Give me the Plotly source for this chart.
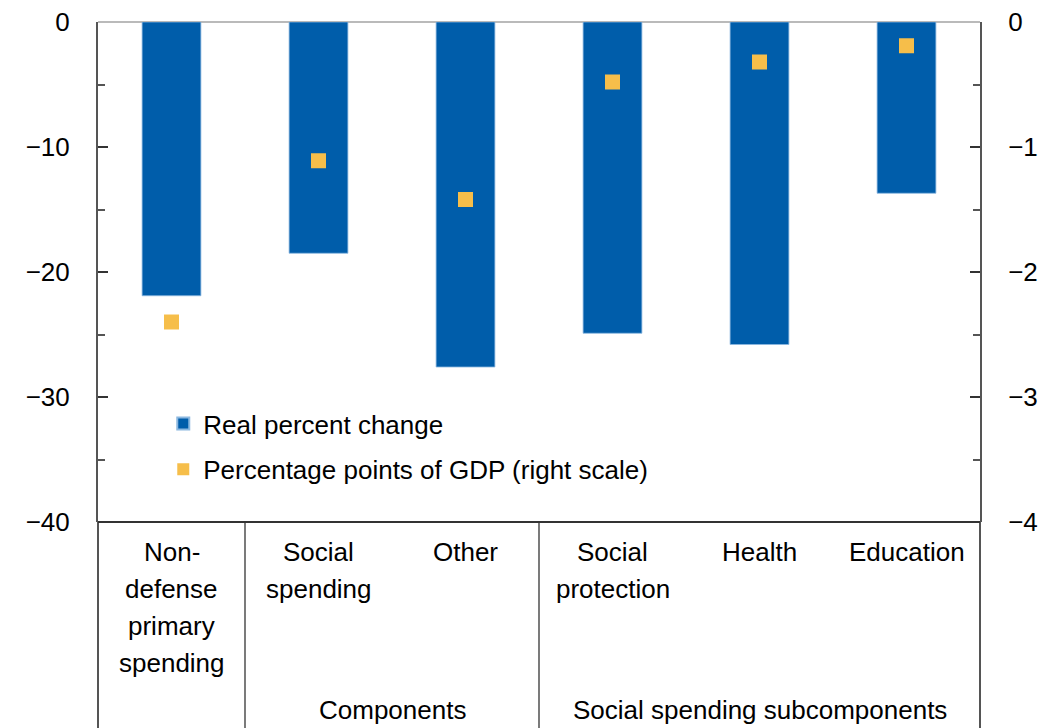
import plotly.graph_objects as go

categories = ["Non-defense primary spending", "Social spending", "Other",
              "Social protection", "Health", "Education"]
label_lines = [["Non-", "defense", "primary", "spending"],
               ["Social", "spending"],
               ["Other"],
               ["Social", "protection"],
               ["Health"],
               ["Education"]]
real_pct_change = [-21.9, -18.5, -27.6, -24.9, -25.8, -13.7]
pp_of_gdp = [-2.40, -1.11, -1.42, -0.48, -0.32, -0.19]
groups = ["Components", "Social spending subcomponents"]
group_spans = [(1, 2), (3, 5)]
separators = [0.5, 2.5]

BLUE = "#005DAA"
GOLD = "#F6BE4A"
FONT = "Liberation Sans, Arial, sans-serif"
FS = 26

x = list(range(len(categories)))

fig = go.Figure()
fig.add_trace(go.Bar(x=x, y=real_pct_change, name="Real percent change",
                     marker=dict(color=BLUE, line=dict(width=0.8, color="#8CB8E0")),
                     width=0.4, yaxis="y", legendgroup="a"))
fig.add_trace(go.Scatter(x=x, y=pp_of_gdp, mode="markers",
                         name="Percentage points of GDP (right scale)",
                         marker=dict(symbol="square", size=15, color=GOLD),
                         yaxis="y2", legendgroup="b"))

# page body has an 8px offset, so the figure is 1048x720 and placed at (8, 8)
OFF = 8
W, H = 1056 - OFF, 728 - OFF
L, R, T = 98 - OFF, 76, 22 - OFF
B = H - T - 500
ph = H - T - B
plot_bottom_page = 522

annotations = []
line_h = 37
for i, lines in enumerate(label_lines):
    for j, t in enumerate(lines):
        ypix = 552 + j * line_h  # center of line in page pixels
        annotations.append(dict(x=i, xref="x", y=-(ypix - plot_bottom_page) / ph, yref="paper",
                                text=t, showarrow=False, yanchor="middle",
                                font=dict(family=FONT, size=FS, color="black")))
for g, (a, b) in zip(groups, group_spans):
    annotations.append(dict(x=(a + b) / 2, xref="x", y=-(710 - plot_bottom_page) / ph,
                            yref="paper", text=g, showarrow=False, yanchor="middle",
                            font=dict(family=FONT, size=FS, color="black")))

shapes = []
n = len(categories)
bottom = -B / ph
for s in separators:
    xp = (s + 0.5) / n
    shapes.append(dict(type="line", xref="paper", yref="paper", x0=xp, x1=xp,
                       y0=0, y1=bottom, line=dict(color="#333333", width=1.3)))
for xp in [0, 1]:
    shapes.append(dict(type="line", xref="paper", yref="paper", x0=xp, x1=xp,
                       y0=0, y1=bottom, line=dict(color="#555555", width=2)))
shapes.append(dict(type="line", xref="paper", yref="paper", x0=0, x1=1,
                   y0=0, y1=0, line=dict(color="#333333", width=2)))
# zero line at the top of the plot
shapes.append(dict(type="line", xref="paper", yref="paper", x0=0, x1=1,
                   y0=1, y1=1, layer="below", line=dict(color="#777777", width=1.2)))

fig.update_layout(
    width=W, height=H,
    margin=dict(l=L, r=R, t=T, b=B, autoexpand=False),
    plot_bgcolor="white", paper_bgcolor="white",
    font=dict(family=FONT, size=FS, color="black"),
    bargap=0.6,
    xaxis=dict(range=[-0.5, n - 0.5], showticklabels=False, ticks="",
               showgrid=False, zeroline=False, showline=False, fixedrange=True),
    yaxis=dict(range=[-40, 0], dtick=10, tick0=0, ticks="inside", ticklen=10,
               tickwidth=1.5, tickcolor="#333333",
               minor=dict(ticks="inside", ticklen=7, dtick=5, tickcolor="#555555"),
               showgrid=False, zeroline=False,
               showline=True, linecolor="#555555", linewidth=2,
               ticklabelstandoff=21, ticklabeloverflow="allow", tickfont=dict(size=FS)),
    yaxis2=dict(range=[-4, 0], dtick=1, tick0=0, overlaying="y", side="right",
                ticks="inside", ticklen=10, tickwidth=1.5, tickcolor="#333333",
                minor=dict(ticks="inside", ticklen=7, dtick=0.5, tickcolor="#555555"),
                showgrid=False, zeroline=False, showline=True, linecolor="#555555",
                linewidth=2, ticklabelstandoff=21, ticklabeloverflow="allow",
                tickfont=dict(size=FS)),
    legend=dict(x=0.074, y=(522 - 400) / ph, xanchor="left", yanchor="top",
                bgcolor="rgba(0,0,0,0)", font=dict(family=FONT, size=FS),
                tracegroupgap=9, itemsizing="constant"),
    showlegend=True,
    annotations=annotations,
    shapes=shapes,
)

fig.write_html("out.html")
